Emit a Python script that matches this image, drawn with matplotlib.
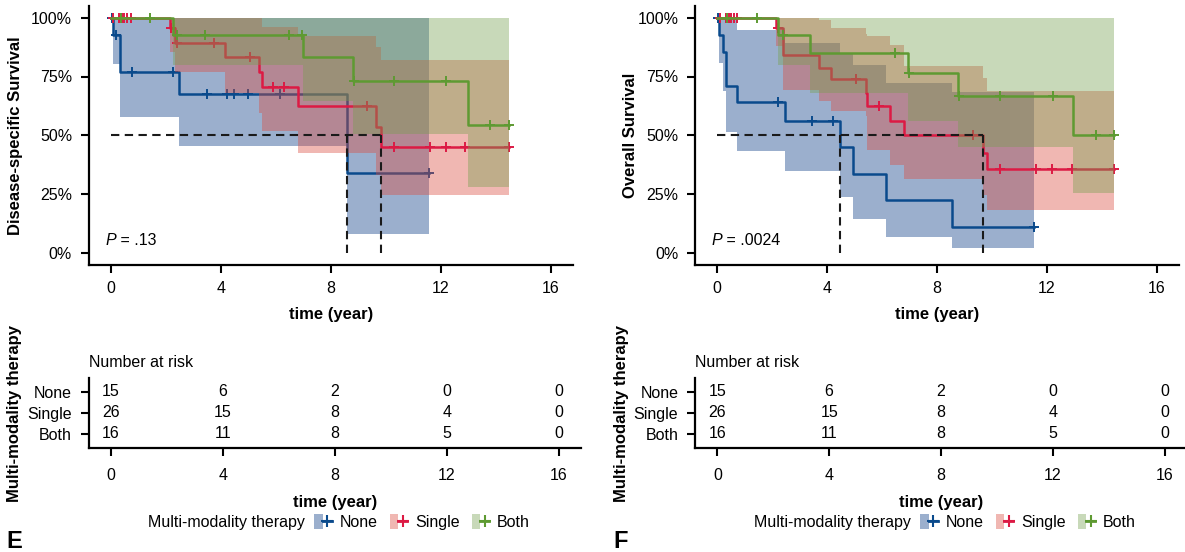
import matplotlib
matplotlib.use("Agg")
import matplotlib.pyplot as plt
import numpy as np
from matplotlib.lines import Line2D
from matplotlib.patches import Patch
from matplotlib.legend_handler import HandlerTuple

plt.rcParams["font.family"] = ["Liberation Sans", "DejaVu Sans"]

groups = ["None", "Single", "Both"]
line_colors = {"None": "#0A4A8C", "Single": "#DC1A44", "Both": "#5E9A32"}
fill_colors = {"None": "#053782", "Single": "#DA4B3F", "Both": "#76A050"}

# ---- disease-specific survival (panel E) ----
none_dss_time = [0, 0.1, 0.34, 2.5, 8.58, 11.57]
none_dss_surv = [1.0, 0.926, 0.770, 0.675, 0.338, 0.338]
none_dss_upper = [1.0, 1.0, 1.0, 1.0, 1.0, 1.0]
none_dss_lower = [1.0, 0.802, 0.576, 0.455, 0.080, 0.080]
none_dss_cens = [0.04, 0.2, 0.76, 2.25, 3.49, 4.24, 4.5, 5.0, 6.16, 11.57]

single_dss_time = [0, 2.15, 2.34, 4.16, 5.4, 5.49, 6.82, 9.64, 9.83, 14.48]
single_dss_surv = [1.0, 0.955, 0.894, 0.834, 0.770, 0.704, 0.624, 0.536, 0.451, 0.451]
single_dss_upper = [1.0, 1.0, 1.0, 1.0, 1.0, 0.962, 0.921, 0.877, 0.820, 0.820]
single_dss_lower = [1.0, 0.855, 0.770, 0.680, 0.593, 0.519, 0.426, 0.330, 0.246, 0.246]
single_dss_cens = [0.1, 0.3, 0.42, 0.5, 0.6, 0.72, 2.2, 2.4, 3.76, 5.08, 5.91,
                   6.31, 9.31, 10.3, 11.6, 12.2, 12.9, 14.48]

both_dss_time = [0, 2.25, 7.0, 8.82, 12.98, 14.48]
both_dss_surv = [1.0, 0.926, 0.834, 0.731, 0.543, 0.543]
both_dss_upper = [1.0, 1.0, 1.0, 1.0, 1.0, 1.0]
both_dss_lower = [1.0, 0.799, 0.646, 0.505, 0.281, 0.281]
both_dss_cens = [0.36, 1.43, 2.4, 3.43, 6.5, 6.95, 8.85, 10.3, 12.2, 13.8, 14.48]

# ---- overall survival (panel F) ----
none_os_time = [0, 0.06, 0.2, 0.31, 0.73, 2.47, 4.47, 4.96, 6.13, 8.56, 11.55]
none_os_surv = [1.0, 0.926, 0.855, 0.709, 0.640, 0.560, 0.448, 0.336, 0.223, 0.111, 0.111]
none_os_upper = [1.0, 1.0, 1.0, 1.0, 0.948, 0.891, 0.848, 0.799, 0.721, 0.685, 0.685]
none_os_lower = [1.0, 0.806, 0.689, 0.512, 0.434, 0.349, 0.238, 0.143, 0.068, 0.019, 0.019]
none_os_cens = [0.02, 2.2, 3.46, 4.23, 11.55]

single_os_time = [0, 2.15, 2.38, 3.72, 4.13, 5.4, 5.47, 6.29, 6.8, 9.66, 9.81, 14.45]
single_os_surv = [1.0, 0.955, 0.841, 0.787, 0.738, 0.678, 0.626, 0.560, 0.502, 0.426, 0.355, 0.355]
single_os_upper = [1.0, 1.0, 1.0, 0.99, 0.955, 0.93, 0.923, 0.884, 0.794, 0.742, 0.689, 0.689]
single_os_lower = [1.0, 0.88, 0.692, 0.645, 0.605, 0.58, 0.437, 0.373, 0.314, 0.245, 0.182, 0.182]
single_os_cens = [0.1, 0.3, 0.42, 0.5, 0.6, 0.72, 2.2, 5.05, 5.89, 9.3, 10.3,
                  11.6, 12.2, 12.9, 14.45]

both_os_time = [0, 2.22, 3.38, 6.96, 8.78, 12.97, 14.45]
both_os_surv = [1.0, 0.926, 0.849, 0.767, 0.669, 0.501, 0.501]
both_os_upper = [1.0, 1.0, 1.0, 1.0, 1.0, 1.0, 1.0]
both_os_lower = [1.0, 0.799, 0.678, 0.562, 0.448, 0.253, 0.253]
both_os_cens = [0.36, 1.43, 2.38, 6.47, 6.98, 8.8, 10.3, 12.24, 13.8, 14.45]

# ---- number at risk ----
risk_times = [0, 4, 8, 12, 16]
risk_none = [15, 6, 2, 0, 0]
risk_single = [26, 15, 8, 4, 0]
risk_both = [16, 11, 8, 5, 0]

time_ticks = [0, 4, 8, 12, 16]
surv_ticks = [0, 0.25, 0.5, 0.75, 1.0]
surv_ticklabels = ["0%", "25%", "50%", "75%", "100%"]

FS = 11.5
FIG_W, FIG_H = 1185, 552


def fig_box(x0, x1, y_top, y_bot):
    return [x0 / FIG_W, 1 - y_bot / FIG_H, (x1 - x0) / FIG_W, (y_bot - y_top) / FIG_H]


def style_axes(ax):
    for side in ["top", "right"]:
        ax.spines[side].set_visible(False)
    for side in ["left", "bottom"]:
        ax.spines[side].set_linewidth(1.6)
    ax.tick_params(length=6, width=1.5, pad=6, labelsize=FS, colors="black")


def step_value(times, values, t):
    idx = np.searchsorted(times, t, side="right") - 1
    return np.asarray(values)[idx]


def median_time(times, surv):
    for t, s in zip(times, surv):
        if s <= 0.5:
            return t
    return None


def draw_km(ax, curves, p_value, ylabel):
    medians = []
    for k, g in enumerate(groups):
        time, surv, upper, lower, cens = curves[g]
        # band of each group sits over the lines of the groups before it
        ax.fill_between(time, lower, upper, step="post", color=fill_colors[g],
                        alpha=0.4, lw=0, zorder=2 + 2 * k)
        ax.step(time, surv, where="post", color=line_colors[g], lw=1.8,
                zorder=3 + 2 * k)
        ax.plot(cens, step_value(time, surv, cens), ls="none", marker="+",
                ms=7.5, mew=1.4, color=line_colors[g], zorder=3 + 2 * k)
        m = median_time(time, surv)
        if m is not None:
            medians.append(m)

    if medians:
        ax.plot([0, max(medians)], [0.5, 0.5], color="#1a1a1a", lw=1.5,
                ls=(0, (4, 2.6)), zorder=20)
        for m in medians:
            ax.plot([m, m], [0, 0.5], color="#1a1a1a", lw=1.5,
                    ls=(0, (4, 2.6)), zorder=20)

    p_txt = ax.text(-0.2, 0.054, "P", style="italic", fontsize=FS,
                    ha="left", va="center", zorder=25)
    ax.annotate(" = " + p_value, xy=(1, 0), xycoords=p_txt, ha="left",
                va="bottom", fontsize=FS, zorder=25)

    ax.set_xlim(-0.8, 16.8)
    ax.set_ylim(-0.05, 1.05)
    ax.set_xticks(time_ticks)
    ax.set_yticks(surv_ticks)
    ax.set_yticklabels(surv_ticklabels)
    style_axes(ax)
    ax.set_xlabel("time (year)", fontsize=12, fontweight="bold", labelpad=8)
    ax.set_ylabel(ylabel, fontsize=12, fontweight="bold")
    return ax


def draw_risk(ax):
    rows = {"None": (3, risk_none), "Single": (2, risk_single), "Both": (1, risk_both)}
    for g in groups:
        y, counts = rows[g]
        for t, n in zip(risk_times, counts):
            ax.text(t, y, str(n), ha="center", va="center", fontsize=FS)
    ax.set_xlim(-0.8, 16.8)
    ax.set_ylim(0.3, 3.65)
    ax.set_yticks([3, 2, 1])
    ax.set_yticklabels(groups)
    ax.set_xticks(time_ticks)
    style_axes(ax)
    ax.tick_params(axis="x", pad=8)
    ax.set_xlabel("time (year)", fontsize=12, fontweight="bold", labelpad=9)
    ax.set_ylabel("Multi-modality therapy", fontsize=12, fontweight="bold")
    ax.text(0, 1.23, "Number at risk", transform=ax.transAxes, ha="left",
            va="center", fontsize=FS)


def add_legend(fig, title_x, key_x, y):
    fig.text(title_x / FIG_W, 1 - y / FIG_H, "Multi-modality therapy",
             ha="left", va="center", fontsize=FS)
    handles = []
    for g in groups:
        handles.append((Patch(facecolor=fill_colors[g], alpha=0.4, edgecolor="none"),
                        Line2D([], [], color=line_colors[g], lw=2, marker="+",
                               ms=8, mew=1.5)))
    fig.legend(handles, groups, handler_map={tuple: HandlerTuple(ndivide=None)},
               loc="center left", bbox_to_anchor=(key_x / FIG_W, 1 - y / FIG_H),
               ncol=3, frameon=False, fontsize=FS, handlelength=1.1,
               handleheight=1.1, handletextpad=0.5, columnspacing=0.75,
               borderpad=0, borderaxespad=0)


fig = plt.figure(figsize=(11.85, 5.52), dpi=100)

dss_curves = {
    "None": (none_dss_time, none_dss_surv, none_dss_upper, none_dss_lower, none_dss_cens),
    "Single": (single_dss_time, single_dss_surv, single_dss_upper, single_dss_lower, single_dss_cens),
    "Both": (both_dss_time, both_dss_surv, both_dss_upper, both_dss_lower, both_dss_cens),
}
os_curves = {
    "None": (none_os_time, none_os_surv, none_os_upper, none_os_lower, none_os_cens),
    "Single": (single_os_time, single_os_surv, single_os_upper, single_os_lower, single_os_cens),
    "Both": (both_os_time, both_os_surv, both_os_upper, both_os_lower, both_os_cens),
}

ax_e = fig.add_axes(fig_box(88.7, 572.7, 6, 264.5))
draw_km(ax_e, dss_curves, ".13", "Disease-specific Survival")
ax_e.yaxis.set_label_coords(-0.136, 0.5)

ax_f = fig.add_axes(fig_box(695.3, 1178.6, 6, 264.5))
draw_km(ax_f, os_curves, ".0024", "Overall Survival")
ax_f.yaxis.set_label_coords(-0.119, 0.5)

risk_e = fig.add_axes(fig_box(88.6, 581.4, 378.3, 448.3))
draw_risk(risk_e)
risk_e.yaxis.set_label_coords(-0.136, 0.5)

risk_f = fig.add_axes(fig_box(695.0, 1187.0, 378.3, 448.3))
draw_risk(risk_f)
risk_f.yaxis.set_label_coords(-0.135, 0.5)

add_legend(fig, 148, 314, 522)
add_legend(fig, 754, 920, 522)

fig.text(6 / FIG_W, 1 - 541 / FIG_H, "E", fontsize=17, fontweight="bold",
         ha="left", va="center")
fig.text(613 / FIG_W, 1 - 541 / FIG_H, "F", fontsize=17, fontweight="bold",
         ha="left", va="center")

fig.savefig("out.png", dpi=100)
plt.close(fig)
